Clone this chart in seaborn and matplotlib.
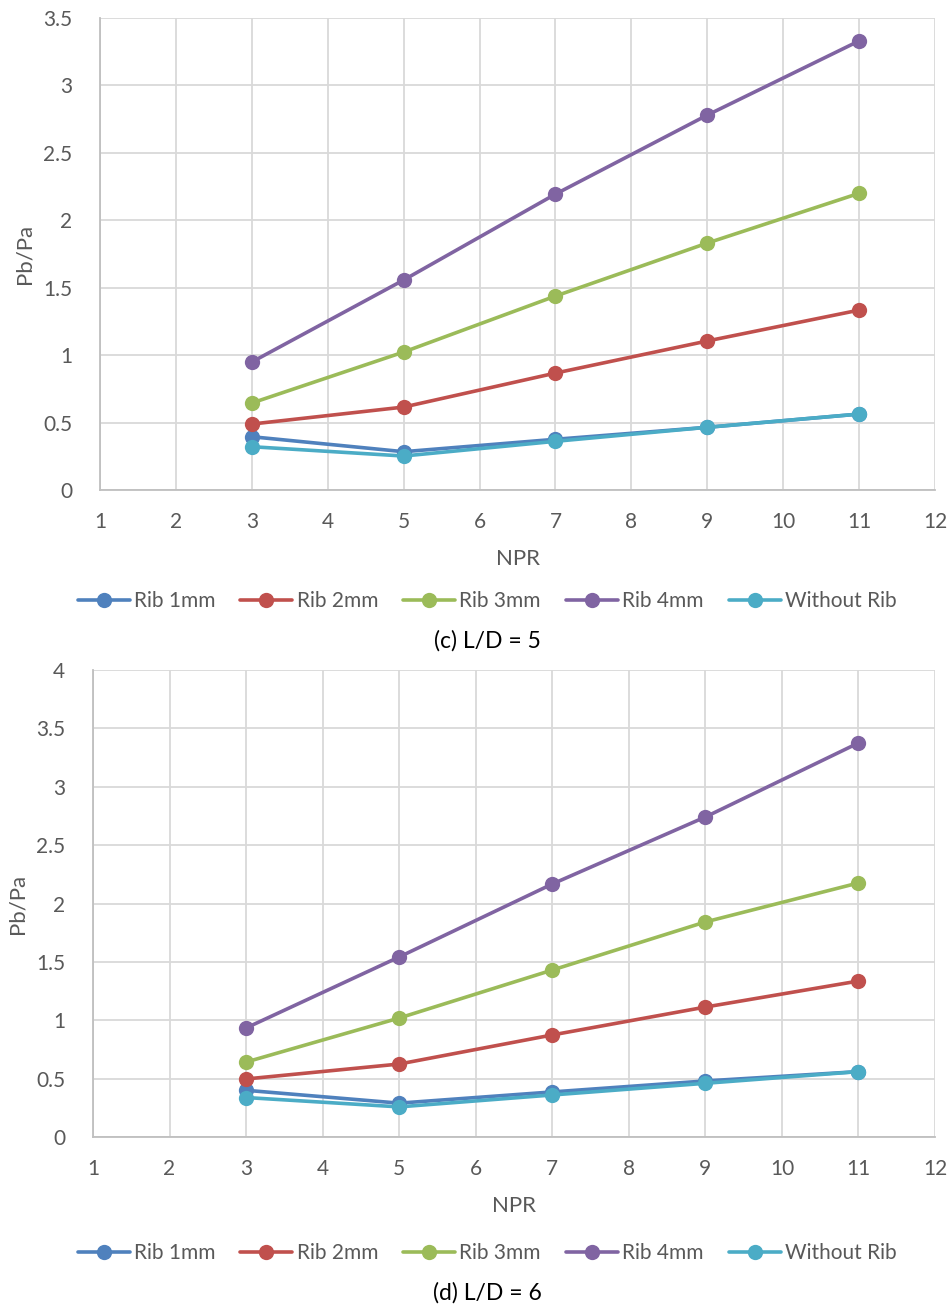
import numpy as np
import pandas as pd
import matplotlib
matplotlib.use("Agg")
import matplotlib.pyplot as plt
import seaborn as sns

npr = [3, 5, 7, 9, 11]
series_names = ["Rib 1mm", "Rib 2mm", "Rib 3mm", "Rib 4mm", "Without Rib"]

# (c) L/D = 5
ld5_rib1 = [0.395, 0.284, 0.376, 0.465, 0.563]
ld5_rib2 = [0.489, 0.615, 0.867, 1.105, 1.334]
ld5_rib3 = [0.645, 1.023, 1.438, 1.831, 2.200]
ld5_rib4 = [0.949, 1.557, 2.194, 2.780, 3.330]
ld5_none = [0.321, 0.252, 0.361, 0.465, 0.563]

# (d) L/D = 6
ld6_rib1 = [0.400, 0.290, 0.386, 0.480, 0.560]
ld6_rib2 = [0.497, 0.625, 0.874, 1.113, 1.336]
ld6_rib3 = [0.642, 1.019, 1.430, 1.842, 2.176]
ld6_rib4 = [0.934, 1.542, 2.167, 2.741, 3.375]
ld6_none = [0.338, 0.258, 0.360, 0.460, 0.560]

captions = ["(c) L/D = 5", "(d) L/D = 6"]
y_limits = [(0, 3.5), (0, 4)]
x_ticks = list(range(1, 13))

colors = ["#4F81BD", "#C0504D", "#9BBB59", "#8064A2", "#4BACC6"]
text_gray = "#595959"
grid_gray = "#D9D9D9"


def to_long(values):
    rows = []
    for name, vals in zip(series_names, values):
        for x, y in zip(npr, vals):
            rows.append({"NPR": x, "Pb/Pa": y, "Series": name})
    return pd.DataFrame(rows)


panels = [
    to_long([ld5_rib1, ld5_rib2, ld5_rib3, ld5_rib4, ld5_none]),
    to_long([ld6_rib1, ld6_rib2, ld6_rib3, ld6_rib4, ld6_none]),
]

sns.set_theme(style="white")
plt.rcParams["font.family"] = ["Lato", "DejaVu Sans"]

fig = plt.figure(figsize=(9.51, 13.07), dpi=100)
W, H = 951, 1307
# axes boxes in pixels: left, top, right, bottom
boxes = [(100, 18, 935, 490), (93, 670, 935, 1137)]
legend_y = [601, 1253]
caption_y = [641, 1293]

for i, (df, box) in enumerate(zip(panels, boxes)):
    l, t, r, b = box
    ax = fig.add_axes([l / W, 1 - b / H, (r - l) / W, (b - t) / H])
    sns.lineplot(
        data=df, x="NPR", y="Pb/Pa", hue="Series", hue_order=series_names,
        palette=colors, marker="o", markersize=11, markeredgewidth=0,
        linewidth=2.6, ax=ax, legend=True,
    )
    ax.set_xlim(1, 12)
    ax.set_ylim(*y_limits[i])
    ax.set_xticks(x_ticks)
    ax.set_yticks(np.arange(y_limits[i][0], y_limits[i][1] + 0.001, 0.5))
    ax.set_yticklabels([f"{v:g}" for v in ax.get_yticks()])
    ax.grid(True, color=grid_gray, linewidth=1.3)
    ax.set_axisbelow(True)
    for side in ["top", "right"]:
        ax.spines[side].set_visible(False)
    for side in ["left", "bottom"]:
        ax.spines[side].set_color("#BFBFBF")
        ax.spines[side].set_linewidth(1.3)
    ax.tick_params(axis="x", colors=text_gray, labelsize=15, length=0, pad=16)
    ax.tick_params(axis="y", colors=text_gray, labelsize=15, length=0, pad=20)
    ax.set_xlabel("NPR", fontsize=16, color=text_gray, labelpad=12)
    ax.set_ylabel("Pb/Pa", fontsize=16, color=text_gray, labelpad=6)

    handles, labels = ax.get_legend_handles_labels()
    ax.get_legend().remove()
    leg = fig.legend(
        handles, labels, loc="center", ncol=5,
        bbox_to_anchor=(487 / W, 1 - legend_y[i] / H),
        frameon=False, fontsize=15, handlelength=2.5, handletextpad=0.2,
        columnspacing=1.2,
    )
    for txt in leg.get_texts():
        txt.set_color(text_gray)
    fig.text(487 / W, 1 - caption_y[i] / H, captions[i], ha="center",
             va="center", fontsize=16.5, color="#000000")

fig.savefig("out.png", dpi=100)
